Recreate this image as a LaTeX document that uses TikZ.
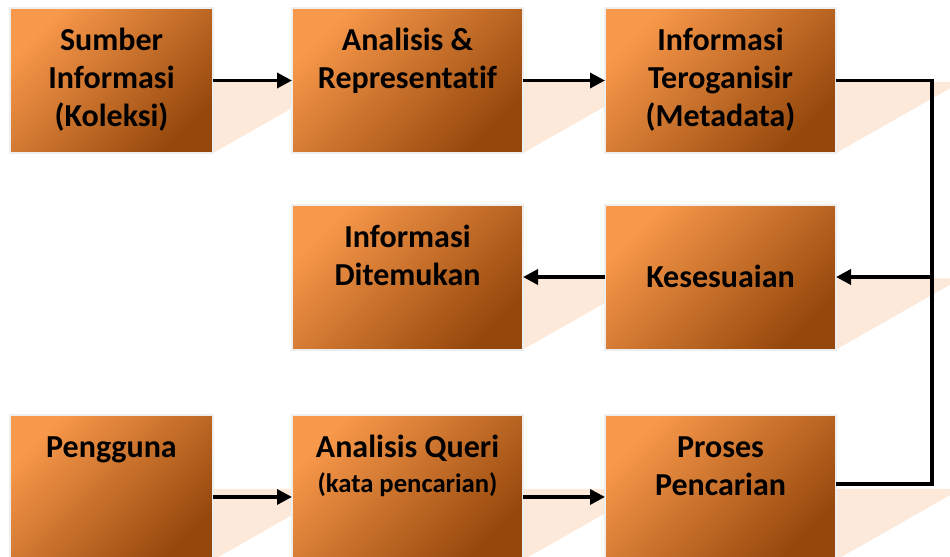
\documentclass[tikz,border=0pt]{standalone}
\usepackage{fontspec}
\setmainfont{Carlito}[Ligatures=NoCommon]
\usetikzlibrary{arrows.meta, backgrounds, positioning}

\begin{document}
\begin{tikzpicture}
			[x=0.75pt,y=-0.75pt,line cap=butt,
			%Styles
			process box/.style={rectangle,draw=boxedge,line width=1.5pt,inner sep=0pt,outer sep=0pt,
				minimum height=108.75pt,top color=boxlight,bottom color=boxdark,shading angle=45},
			wide box/.style={process box,minimum width=173.25pt},
			narrow box/.style={process box,minimum width=152.25pt},
			box text/.style={anchor=base,align=center,inner sep=0pt,font=\bfseries\fontsize{24}{28.5}\selectfont},
			flow line/.style={line width=2.6pt},
			flow arrow/.style={flow line,-{Triangle[length=11.25pt,width=11.25pt]}},
			shadow fill/.style={fill=shadowcolor}
			]
			
			%Colors
			\definecolor{boxlight}{RGB}{248,152,74}
			\definecolor{boxdark}{RGB}{150,72,12}
			\definecolor{boxedge}{RGB}{238,238,238}
			\definecolor{shadowcolor}{RGB}{252,233,218}
			
			%The graphic
			\useasboundingbox (0,0) rectangle (950,557);
			
			\node[narrow box] (src) at (111.5,80.5) {};
			\node[wide box] (ana) at (407.5,80.5) {};
			\node[wide box] (org) at (720.5,80.5) {};
			\node[wide box] (found) at (407.5,277) {};
			\node[wide box] (match) at (720.5,277) {};
			\node[narrow box] (user) at (111.5,487.5) {};
			\node[wide box] (query) at (407.5,487.5) {};
			\node[wide box] (search) at (720.5,487.5) {};
			
			% text: base is the last line
			\node[box text] (src-t) at (111.5,126) {Sumber\\Informasi\\(Koleksi)};
			\node[box text] (ana-t) at (407.5,88) {Analisis \&\\Representatif};
			\node[box text] (org-t) at (720.5,126) {Informasi\\Teroganisir\\(Metadata)};
			\node[box text] (found-t) at (407.5,285) {Informasi\\Ditemukan};
			\node[box text] (match-t) at (720.5,287) {Kesesuaian};
			\node[box text] (user-t) at (111.5,457) {Pengguna};
			\node[box text] (query-t) at (407.5,492) {Analisis Queri\\[-2.25pt]{\fontsize{20}{24}\selectfont (kata pencarian)}};
			\node[box text] (search-t) at (720.5,495) {Proses\\Pencarian};
			
			\begin{scope}[on background layer]
				\foreach \b in {src,ana,org,found,match,user,query,search}
					\fill[shadow fill] ([yshift=-1.1pt]\b.east) -- ++(125,0) -- (\b.south east) -- cycle;
			\end{scope}
			
			\coordinate (bus) at (932,277);
			
			\draw[flow arrow] (src) -- (ana);
			\draw[flow arrow] (ana) -- (org);
			\draw[flow line] (org) -| (bus) |- ([yshift=2.6pt]search.east);
			\draw[flow arrow] (bus) -- (match);
			\draw[flow arrow] (match) -- (found);
			\draw[flow arrow] ([yshift=-7.1pt]user.east) -- ([yshift=-7.1pt]query.west);
			\draw[flow arrow] ([yshift=-7.1pt]query.east) -- ([yshift=-7.1pt]search.west);
		\end{tikzpicture}
\end{document}
